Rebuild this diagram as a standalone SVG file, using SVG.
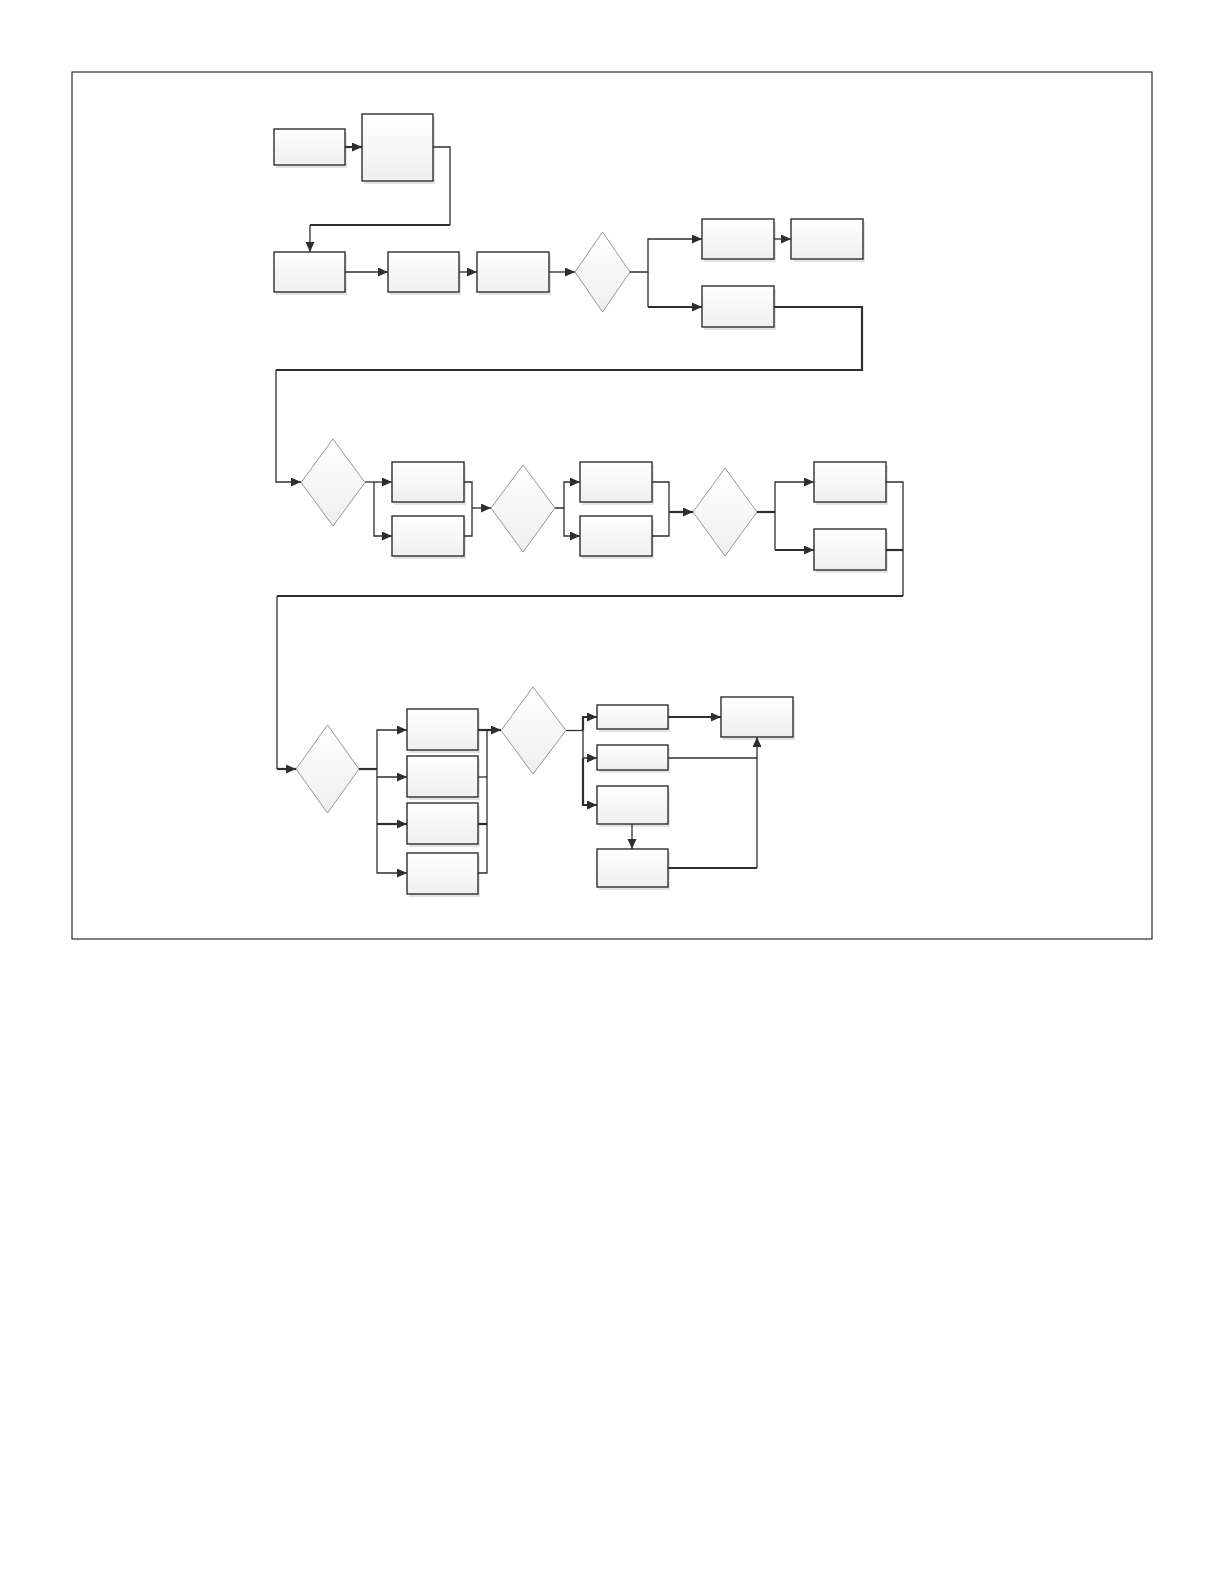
<svg xmlns="http://www.w3.org/2000/svg" width="1224" height="1584" viewBox="0 0 1224 1584">
<style>
.box{fill:url(#g);stroke:#2e2e2e;stroke-width:1.4}
.sh{fill:#e3e3e3}
.dia{fill:url(#g);stroke:#8a8a8a;stroke-width:0.9}
.c{fill:none;stroke:#2e2e2e;stroke-width:1.3}
.t{stroke-width:2.2}
.a{marker-end:url(#arr)}
</style>
<defs>
<linearGradient id="g" x1="0" y1="0" x2="0" y2="1">
<stop offset="0" stop-color="#ffffff"/>
<stop offset="1" stop-color="#efefef"/>
</linearGradient>
<marker id="arr" markerUnits="userSpaceOnUse" markerWidth="11" markerHeight="10" refX="10" refY="4.5" orient="auto">
<path d="M0,0 L10,4.5 L0,9 z" fill="#2e2e2e"/>
</marker>
</defs>
<rect width="1224" height="1584" fill="#fff"/>
<rect x="72" y="72" width="1080" height="867" fill="none" stroke="#2a2a2a" stroke-width="1.2"/>

<g id="nodes">
<g id="A"><rect class="sh" x="276" y="132" width="71" height="36"/><rect class="box" x="274" y="129" width="71" height="36"/></g>
<g id="B"><rect class="sh" x="364" y="117" width="71" height="67"/><rect class="box" x="362" y="114" width="71" height="67"/></g>
<g id="C"><rect class="sh" x="276" y="255" width="71" height="40"/><rect class="box" x="274" y="252" width="71" height="40"/></g>
<g id="D"><rect class="sh" x="390" y="255" width="71" height="40"/><rect class="box" x="388" y="252" width="71" height="40"/></g>
<g id="E"><rect class="sh" x="479" y="255" width="72" height="40"/><rect class="box" x="477" y="252" width="72" height="40"/></g>
<g id="D1"><polygon class="dia" points="602.5,232 630,272 602.5,312 575,272"/></g>
<g id="F"><rect class="sh" x="704" y="222" width="72" height="40"/><rect class="box" x="702" y="219" width="72" height="40"/></g>
<g id="G"><rect class="sh" x="793" y="222" width="72" height="40"/><rect class="box" x="791" y="219" width="72" height="40"/></g>
<g id="H"><rect class="sh" x="704" y="289" width="72" height="41"/><rect class="box" x="702" y="286" width="72" height="41"/></g>

<g id="D2"><polygon class="dia" points="333,439 365,482.5 333,526 301,482.5"/></g>
<g id="I"><rect class="sh" x="394" y="465" width="72" height="40"/><rect class="box" x="392" y="462" width="72" height="40"/></g>
<g id="J"><rect class="sh" x="394" y="519" width="72" height="40"/><rect class="box" x="392" y="516" width="72" height="40"/></g>
<g id="D3"><polygon class="dia" points="523,465 555,508 523,552 491,508"/></g>
<g id="K"><rect class="sh" x="582" y="465" width="72" height="40"/><rect class="box" x="580" y="462" width="72" height="40"/></g>
<g id="L"><rect class="sh" x="582" y="519" width="72" height="40"/><rect class="box" x="580" y="516" width="72" height="40"/></g>
<g id="D4"><polygon class="dia" points="725,468 757,512 725,556 693,512"/></g>
<g id="M"><rect class="sh" x="816" y="465" width="72" height="40"/><rect class="box" x="814" y="462" width="72" height="40"/></g>
<g id="N"><rect class="sh" x="816" y="532" width="72" height="41"/><rect class="box" x="814" y="529" width="72" height="41"/></g>

<g id="D5"><polygon class="dia" points="327.5,725 359,769 327.5,813 296,769"/></g>
<g id="O1"><rect class="sh" x="409" y="712" width="71" height="41"/><rect class="box" x="407" y="709" width="71" height="41"/></g>
<g id="O2"><rect class="sh" x="409" y="759" width="71" height="41"/><rect class="box" x="407" y="756" width="71" height="41"/></g>
<g id="O3"><rect class="sh" x="409" y="806" width="71" height="41"/><rect class="box" x="407" y="803" width="71" height="41"/></g>
<g id="O4"><rect class="sh" x="409" y="856" width="71" height="41"/><rect class="box" x="407" y="853" width="71" height="41"/></g>
<g id="D6"><polygon class="dia" points="533,687 566,730.5 533,774 501,730.5"/></g>
<g id="P1"><rect class="sh" x="599" y="708" width="71" height="24"/><rect class="box" x="597" y="705" width="71" height="24"/></g>
<g id="P2"><rect class="sh" x="599" y="748" width="71" height="25"/><rect class="box" x="597" y="745" width="71" height="25"/></g>
<g id="P3"><rect class="sh" x="599" y="789" width="71" height="38"/><rect class="box" x="597" y="786" width="71" height="38"/></g>
<g id="P4"><rect class="sh" x="599" y="852" width="71" height="38"/><rect class="box" x="597" y="849" width="71" height="38"/></g>
<g id="Q"><rect class="sh" x="723" y="700" width="72" height="40"/><rect class="box" x="721" y="697" width="72" height="40"/></g>
</g>

<g id="connectors">
<path class="c t a" d="M345,147 H362"/>
<path class="c" d="M433,147 H450 V225"/>
<path class="c t" d="M450,225 H310"/>
<path class="c a" d="M310,225 V252"/>
<path class="c a" d="M345,272 H388"/>
<path class="c a" d="M459,272 H477"/>
<path class="c a" d="M549,272 H575"/>
<path class="c a" d="M630,272 H648 V239 H702"/>
<path class="c" d="M648,272 V307"/>
<path class="c t a" d="M648,307 H702"/>
<path class="c a" d="M774,239 H791"/>
<path class="c t" d="M774,307 H862 V370 H276"/>
<path class="c a" d="M276,370 V482 H301"/>

<path class="c a" d="M365,482 H392"/>
<path class="c a" d="M374,482 V536 H392"/>
<path class="c" d="M464,482 H472 V536 H464"/>
<path class="c a" d="M472,508 H491"/>
<path class="c a" d="M555,508 H564 V482 H580"/>
<path class="c a" d="M564,508 V536 H580"/>
<path class="c" d="M652,482 H669 V536 H652"/>
<path class="c t a" d="M669,512 H693"/>
<path class="c t" d="M757,512 H775"/>
<path class="c a" d="M775,512 V482 H814"/>
<path class="c" d="M775,512 V550"/>
<path class="c t a" d="M775,550 H814"/>
<path class="c" d="M886,482 H903 V596"/>
<path class="c t" d="M886,550 H903"/>
<path class="c t" d="M903,596 H277"/>
<path class="c" d="M277,596 V769"/>
<path class="c t a" d="M277,769 H296"/>

<path class="c t" d="M359,769 H377"/>
<path class="c a" d="M377,769 V730 H407"/>
<path class="c a" d="M377,769 V777 H407"/>
<path class="c" d="M377,777 V824"/>
<path class="c t a" d="M377,824 H407"/>
<path class="c a" d="M377,824 V873 H407"/>
<path class="c t a" d="M478,730 H501"/>
<path class="c" d="M487,730 V873 H478"/>
<path class="c" d="M478,777 H487"/>
<path class="c t" d="M478,824 H487"/>

<path class="c" d="M566,730.5 H583"/>
<path class="c t a" d="M583,730.5 V717 H597"/>
<path class="c a" d="M583,730.5 V758 H597"/>
<path class="c t a" d="M583,758 V805 H597"/>
<path class="c a" d="M632,824 V849"/>
<path class="c t a" d="M668,717 H721"/>
<path class="c" d="M668,758 H757"/>
<path class="c t" d="M668,868 H757"/>
<path class="c a" d="M757,868 V737"/>
</g>
</svg>
